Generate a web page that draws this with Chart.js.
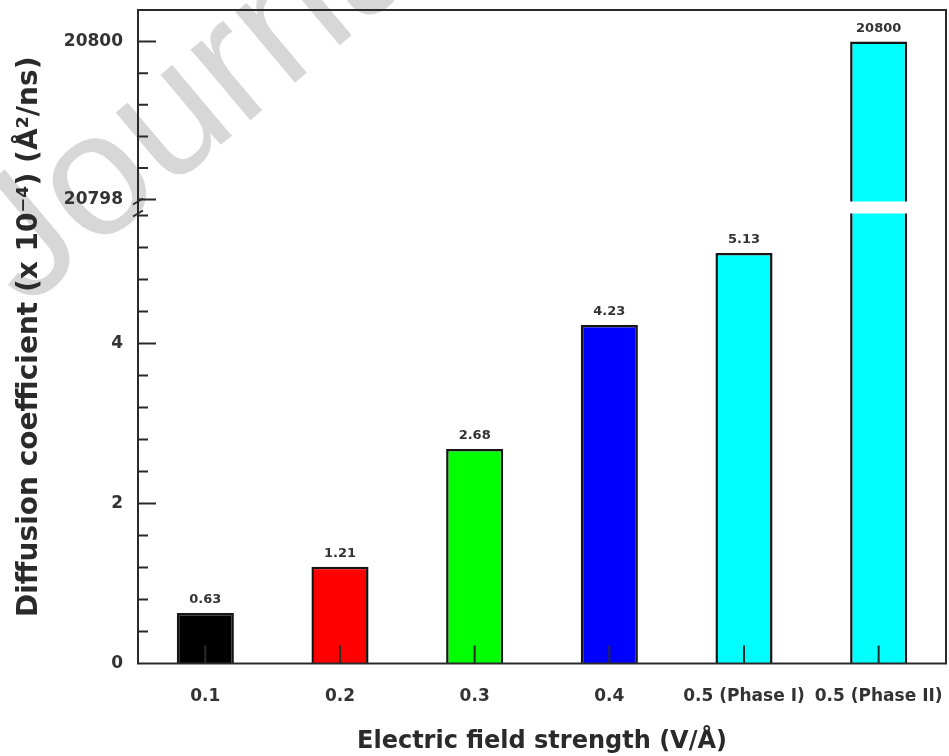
<!DOCTYPE html>
<html>
<head>
<meta charset="utf-8">
<script src="https://cdn.jsdelivr.net/npm/chart.js@4.4.1/dist/chart.umd.min.js"></script>
<style>
html, body { margin: 0; padding: 0; background: #fff; }
</style>
</head>
<body>
<canvas id="barOne" width="949" height="756"></canvas>
<script>
// data
const fieldLabels = ["0.1", "0.2", "0.3", "0.4", "0.5 (Phase I)", "0.5 (Phase II)"];
const diffusion = [0.63, 1.21, 2.68, 4.23, 5.13, 20800];
const barColors = ["#000000", "#ff0000", "#00ff00", "#0000ff", "#00ffff", "#00ffff"];

// broken y axis: lower and upper ranges
const lowerRange = [0, 5.7];
const upperRange = [20797.9, 20800.4];
const tickStep = 0.4;
const labelStep = 2;

const fontFamily = "DejaVu Sans";
const ink = "#2a2a2a";

function isLabelTick(v) {
	return Math.abs(v / labelStep - Math.round(v / labelStep)) < 1e-6;
}

function noPadding(s) {
	s.paddingTop = 0;
	s.paddingBottom = 0;
	s.paddingLeft = 0;
	s.paddingRight = 0;
}

// faint journal watermark behind the plot, anchored on the centre of its "o"
const watermark = {
	id: "watermark",
	beforeDraw(chart) {
		const ctx = chart.ctx;
		const size = 175;
		ctx.save();
		ctx.fillStyle = "#d7d7d7";
		ctx.font = size + "px 'Liberation Sans'";
		ctx.textBaseline = "alphabetic";
		const wJ = ctx.measureText("J").width;
		const wo = ctx.measureText("o").width;
		ctx.translate(100, 187);
		ctx.rotate(-40 * Math.PI / 180);
		ctx.fillText("Journal Pre-proof", -(wJ + wo / 2), size * 0.26);
		ctx.restore();
	}
};

const axisDecor = {
	id: "axisDecor",
	afterDatasetsDraw(chart) {
		const ctx = chart.ctx;
		const area = chart.chartArea;
		const x = chart.scales.x;
		const yLow = chart.scales.y;
		const yUp = chart.scales.yUp;

		ctx.save();
		ctx.strokeStyle = ink;
		ctx.lineWidth = 2;
		ctx.strokeRect(area.left, area.top, area.right - area.left, area.bottom - area.top);

		// inward tick marks
		ctx.beginPath();
		x.ticks.forEach((t, i) => {
			const px = x.getPixelForTick(i);
			ctx.moveTo(px, area.bottom);
			ctx.lineTo(px, area.bottom - 18);
		});
		[yLow, yUp].forEach(s => {
			s.ticks.forEach(t => {
				const py = s.getPixelForValue(t.value);
				if (py < s.top + 1 || py > s.bottom - 1) return;
				const len = isLabelTick(t.value) ? 18 : 10;
				ctx.moveTo(area.left, py);
				ctx.lineTo(area.left + len, py);
			});
		});
		ctx.stroke();

		// break marks on the y axis
		ctx.beginPath();
		[yUp.bottom - 6, yUp.bottom + 6].forEach(py => {
			ctx.moveTo(area.left - 5, py + 3);
			ctx.lineTo(area.left + 5, py - 3);
		});
		ctx.stroke();

		// value labels
		ctx.fillStyle = "#333";
		ctx.font = "bold 13px " + fontFamily;
		ctx.textAlign = "center";
		ctx.textBaseline = "middle";
		chart.data.datasets.forEach((ds, di) => {
			const meta = chart.getDatasetMeta(di);
			const ys = chart.scales[ds.yAxisID];
			meta.data.forEach((bar, i) => {
				if (bar.y < ys.top || bar.y > ys.bottom) return;
				ctx.fillText(String(ds.data[i]), bar.x, bar.y - 13);
			});
		});

		// y axis title, centred on the whole plot height
		ctx.fillStyle = ink;
		ctx.font = "bold 28px " + fontFamily;
		ctx.translate(30, (area.top + area.bottom) / 2);
		ctx.rotate(-Math.PI / 2);
		ctx.fillText("Diffusion coefficient (x 10\u207B\u2074) (\u00C5\u00B2/ns)", 0, 0);
		ctx.restore();
	}
};

const tickFont = { family: fontFamily, weight: "bold", size: 17 };

function yScale(range, weight, order) {
	return {
		type: "linear",
		position: "left",
		stack: "diff",
		stackWeight: weight,
		weight: order,
		min: range[0],
		max: range[1],
		grid: { display: false, drawTicks: false },
		border: { display: false },
		ticks: {
			stepSize: tickStep,
			includeBounds: false,
			autoSkip: false,
			font: tickFont,
			color: "#333",
			padding: 15,
			callback: v => isLabelTick(v) ? String(Math.round(v)) : ""
		},
		afterFit: s => { s.width = 128; noPadding(s); }
	};
}

const barBase = {
	backgroundColor: barColors,
	borderColor: "#151515",
	borderWidth: 2.5,
	grouped: false,
	barPercentage: 0.424,
	categoryPercentage: 1
};

new Chart(document.getElementById("barOne"), {
	type: "bar",
	data: {
		labels: fieldLabels,
		datasets: [
			Object.assign({
				label: "lower",
				data: diffusion,
				yAxisID: "y",
				clip: { left: 0, right: 0, top: -6, bottom: 2 }
			}, barBase),
			Object.assign({
				label: "upper",
				data: diffusion,
				yAxisID: "yUp",
				base: upperRange[0] - 1,
				clip: { left: 0, right: 0, top: 2, bottom: -6 }
			}, barBase)
		]
	},
	options: {
		responsive: false,
		animation: false,
		layout: { padding: { left: 10, right: 3, top: 10, bottom: 0 } },
		plugins: {
			legend: { display: false },
			tooltip: { enabled: false }
		},
		scales: {
			x: {
				grid: { display: false, drawTicks: false },
				border: { display: false },
				ticks: { font: tickFont, color: "#333", padding: 23, maxRotation: 0, autoSkip: false },
				title: {
					display: true,
					text: "Electric field strength (V/\u00C5)",
					font: { family: fontFamily, weight: "bold", size: 24 },
					color: ink,
					padding: { top: 0, bottom: 0 }
				},
				afterFit: s => { s.height = 92.5; noPadding(s); }
			},
			y: yScale(lowerRange, 456, 1),
			yUp: yScale(upperRange, 197.5, 2)
		}
	},
	plugins: [watermark, axisDecor]
});
</script>
</body>
</html>
